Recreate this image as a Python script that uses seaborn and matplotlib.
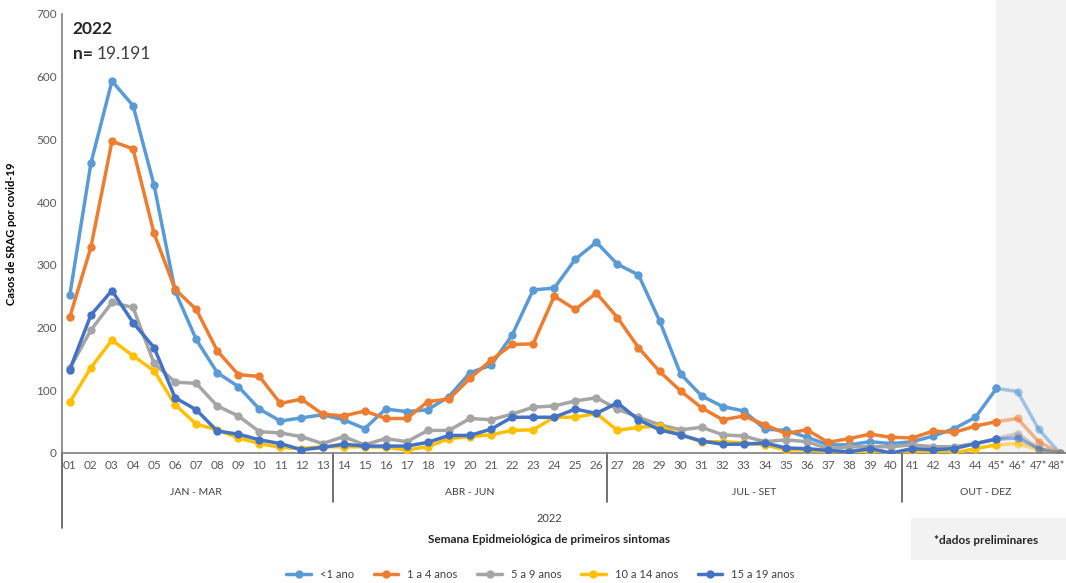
import pandas as pd
import matplotlib.pyplot as plt
import matplotlib.transforms as mtransforms
from matplotlib.patches import Rectangle
import seaborn as sns

# ---- dados ----
semanas = [f"{i:02d}" for i in range(1, 45)] + ["45*", "46*", "47*", "48*"]
faixas = ["<1 ano", "1 a 4 anos", "5 a 9 anos", "10 a 14 anos", "15 a 19 anos"]
cores = ["#5B9BD5", "#ED7D31", "#A5A5A5", "#FFC000", "#4472C4"]

menor_1 = [252, 462, 593, 554, 427, 258, 181, 128, 106, 70, 51, 56, 61,
           53, 39, 70, 66, 69, 90, 128, 140, 188, 260, 263, 309, 336,
           301, 284, 211, 126, 91, 74, 67, 38, 36, 25, 13, 13, 18, 15,
           18, 27, 39, 57, 103, 98, 38, 0]
de_1_4 = [217, 328, 497, 485, 350, 261, 229, 163, 125, 122, 79, 86, 62,
          59, 67, 55, 55, 82, 86, 119, 148, 173, 174, 250, 229, 255,
          216, 168, 130, 99, 72, 53, 59, 45, 31, 37, 17, 23, 30, 25,
          24, 35, 33, 43, 50, 55, 18, 0]
de_5_9 = [135, 196, 240, 232, 143, 113, 111, 75, 59, 34, 32, 26, 15,
          26, 13, 23, 18, 36, 36, 55, 53, 62, 73, 75, 83, 88,
          70, 57, 45, 37, 41, 29, 27, 18, 21, 18, 7, 10, 10, 10,
          13, 10, 10, 15, 23, 31, 7, 0]
de_10_14 = [81, 136, 180, 155, 131, 77, 46, 37, 24, 15, 9, 7, 10,
            10, 10, 9, 5, 10, 23, 26, 29, 36, 37, 57, 57, 63,
            36, 41, 43, 29, 18, 18, 16, 13, 5, 5, 2, 2, 0, 0,
            2, 2, 0, 7, 13, 15, 5, 0]
de_15_19 = [133, 220, 259, 208, 168, 88, 69, 35, 30, 21, 15, 5, 9,
            14, 11, 11, 11, 17, 28, 28, 38, 57, 57, 57, 70, 63,
            80, 53, 37, 29, 19, 14, 14, 16, 8, 7, 4, 2, 7, 0,
            7, 5, 7, 15, 22, 24, 7, 0]

trimestres = ["JAN - MAR", "ABR - JUN", "JUL - SET", "OUT - DEZ"]
limites_trim = [0, 13, 26, 40, 48]   # semanas por trimestre
inicio_prelim = 44                   # posição da semana 45*

# ---- tabela longa ----
series = [menor_1, de_1_4, de_5_9, de_10_14, de_15_19]
linhas = []
for faixa, vals in zip(faixas, series):
    for pos, v in enumerate(vals):
        linhas.append({"pos": pos, "casos": v, "faixa": faixa})
df = pd.DataFrame(linhas)
paleta = dict(zip(faixas, cores))

# ---- figura ----
sns.set_style("white")
plt.rcParams["font.family"] = ["Lato", "DejaVu Sans"]

fig = plt.figure(figsize=(10.66, 5.83), dpi=100)
ax = fig.add_axes([0.058, 0.223, 0.942, 0.753])

# área dos dados preliminares
trans = mtransforms.blended_transform_factory(ax.transData, ax.transAxes)
ax.add_patch(Rectangle((inicio_prelim, 0), 10, 1.035, transform=trans,
                       color="#F2F2F2", clip_on=False, zorder=0, lw=0))

sns.lineplot(data=df[df["pos"] <= inicio_prelim], x="pos", y="casos", hue="faixa",
             palette=paleta, hue_order=faixas, marker="o", markersize=6,
             markeredgewidth=0, linewidth=2.5, ax=ax, zorder=3)
sns.lineplot(data=df[df["pos"] >= inicio_prelim], x="pos", y="casos", hue="faixa",
             palette=paleta, hue_order=faixas, marker="o", markersize=6,
             markeredgewidth=0, linewidth=2.5, alpha=0.55, legend=False, ax=ax, zorder=2)

ax.set_xlim(-0.38, 47.3)
ax.set_ylim(0, 700)
ax.set_yticks(range(0, 701, 100))
ax.set_xticks(range(len(semanas)))
ax.set_xticklabels(semanas)
ax.tick_params(axis="both", length=0, labelsize=8.5, colors="#595959")
ax.tick_params(axis="x", pad=5)
ax.set_xlabel("")
ax.set_ylabel("Casos de SRAG por covid-19", fontsize=8, fontweight="bold",
              color="black", labelpad=14)

# rótulos finais encostados na borda: diminui e puxa um pouco para a esquerda
for lab in ax.get_xticklabels()[-4:]:
    lab.set_fontsize(7.8)
ultimo = ax.get_xticklabels()[-1]
ultimo.set_transform(ultimo.get_transform() +
                     mtransforms.ScaledTranslation(-2.5 / 72, 0, fig.dpi_scale_trans))

for s in ["top", "right"]:
    ax.spines[s].set_visible(False)
ax.spines["left"].set_color("#7F7F7F")
ax.spines["left"].set_linewidth(1.2)
ax.spines["bottom"].set_color("#7F7F7F")
ax.spines["bottom"].set_linewidth(1.2)

# eixo agrupado por trimestre
ax.plot([-0.38, -0.38], [0, -0.17], transform=trans, color="#595959",
        lw=1.2, clip_on=False)
for k in range(1, 4):
    xs = limites_trim[k] - 0.5
    ax.plot([xs, xs], [0, -0.112], transform=trans, color="#595959",
            lw=1.2, clip_on=False)
for k, nome in enumerate(trimestres):
    xc = (limites_trim[k] + limites_trim[k + 1] - 1) / 2
    ax.text(xc, -0.091, nome, transform=trans, ha="center", va="center",
            fontsize=7.5, color="#404040")

fig.text(0.515, 0.11, "2022", ha="center", va="center", fontsize=8, color="#404040")
fig.text(0.515, 0.074, "Semana Epidmeiológica de primeiros sintomas", ha="center",
         va="center", fontsize=8.5, fontweight="bold")

# título interno
ax.text(0.011, 0.966, "2022", transform=ax.transAxes, fontsize=12.5,
        fontweight="bold", va="center")
ax.text(0.011, 0.91, "n=", transform=ax.transAxes, fontsize=12.5,
        fontweight="bold", va="center")
ax.text(0.035, 0.91, "19.191", transform=ax.transAxes, fontsize=12.5,
        color="#404040", va="center")

# nota dados preliminares
fig.add_artist(Rectangle((0.855, 0.04), 0.145, 0.072, transform=fig.transFigure,
                         color="#F2F2F2", lw=0))
fig.text(0.925, 0.073, "*dados preliminares", ha="center", va="center",
         fontsize=8.5, fontweight="bold")

sns.move_legend(ax, "lower center", bbox_to_anchor=(0.507, -0.012),
                bbox_transform=fig.transFigure, ncol=5, frameon=False,
                title=None, fontsize=8, handlelength=2.2, columnspacing=1.8)
for t in ax.get_legend().get_texts():
    t.set_color("#404040")

fig.savefig("out.png", dpi=100)
